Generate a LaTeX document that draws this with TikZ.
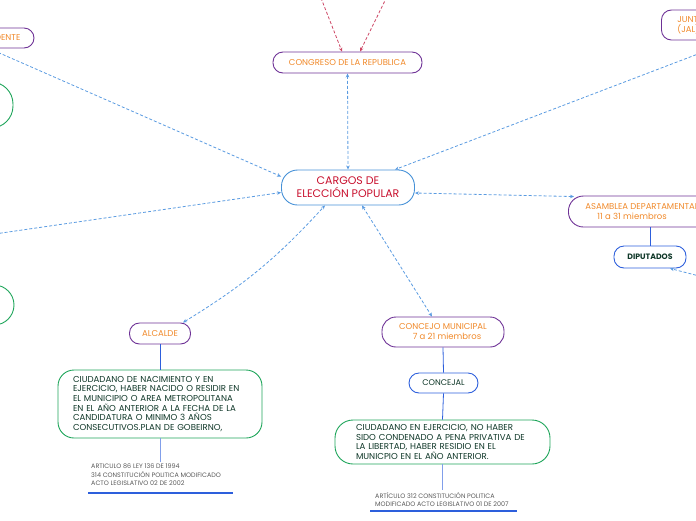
\documentclass[tikz,border=0pt]{standalone}
\usepackage{fontspec}
\setmainfont{Poppins}
\usetikzlibrary{arrows.meta,positioning}
\definecolor{mypurple}{RGB}{110,50,150}
\definecolor{myorange}{RGB}{240,137,42}
\definecolor{myred}{RGB}{200,16,46}
\definecolor{myblue}{RGB}{70,145,215}
\definecolor{roleblue}{RGB}{45,95,220}
\definecolor{mygreen}{RGB}{30,165,90}
\definecolor{darkgreen}{RGB}{15,55,40}
\definecolor{linkblue}{RGB}{90,155,225}
\definecolor{linkred}{RGB}{205,70,100}
\definecolor{mygray}{RGB}{90,90,90}
\tikzset{
  cargo/.style={
    rectangle, draw=mypurple, line width=0.9pt, rounded corners=10pt,
    text=myorange, align=center, inner sep=0pt,
    font=\fontsize{8.5}{10}\selectfont
  },
  titlebox/.style={
    rectangle, draw=myblue, line width=0.9pt, rounded corners=16pt,
    text=myred, align=center, inner sep=0pt,
    font=\fontsize{11}{13}\selectfont
  },
  rolebox/.style={
    rectangle, draw=roleblue, line width=0.9pt, rounded corners=10pt,
    text=darkgreen, align=center, inner sep=0pt,
    font=\fontsize{8.2}{9}\selectfont
  },
  reqbox/.style={
    rectangle, draw=mygreen, line width=0.9pt, rounded corners=16pt,
    text=darkgreen, align=left, inner sep=0pt,
    font=\fontsize{8.6}{9.7}\selectfont
  },
  note/.style={
    text=mygray, align=left, inner sep=0pt,
    font=\fontsize{6.4}{8.4}\selectfont
  },
  link/.style={-{Stealth[length=4pt,width=3.5pt]}, linkblue, line width=0.8pt,
    dash pattern=on 3pt off 2pt},
  bilink/.style={link, {Stealth[length=4pt,width=3.5pt]}-{Stealth[length=4pt,width=3.5pt]}},
  redlink/.style={link, linkred},
  stem/.style={draw=roleblue, line width=0.8pt},
  underline/.style={draw=roleblue, line width=1.6pt},
}

\begin{document}
\begin{tikzpicture}[x=1pt, y=-1pt]

  \useasboundingbox (0,0) rectangle (696,520);
  \clip (0,0) rectangle (696,520);

  %% Center
  \node[titlebox, minimum width=133pt, minimum height=35pt] at (348,187.5)
  (cargos) {CARGOS DE\\ELECCIÓN POPULAR};

  %% Upper nodes
  \node[cargo, minimum width=149pt, minimum height=21pt] at (347.5,62.5)
  (congreso) {CONGRESO DE LA REPUBLICA};
  \node[cargo, minimum width=74pt, minimum height=20pt] at (-3,38)
  (presidente) {PRESIDENTE};
  \node[cargo, anchor=west, align=left, inner xsep=16pt,
    minimum height=30pt] at (661,25)
  (jal) {JUNTAS ADMINISTRADORAS\\(JAL)};
  \coordinate (senado) at (310,-30);
  \coordinate (camara) at (400,-30);

  %% Left side (cut off)
  \node[reqbox, minimum width=106pt, minimum height=46pt, rounded corners=22pt]
  at (-40,105) (reqpres) {};
  \node[reqbox, minimum width=106pt, minimum height=40pt, rounded corners=20pt]
  at (-39,305) (reqgob) {};
  \coordinate (gobernador) at (-40,239);

  %% Asamblea
  \node[cargo, anchor=west, align=left, inner xsep=17pt,
    minimum height=31pt, rounded corners=15pt] at (568,211.5)
  (asamblea) {ASAMBLEA DEPARTAMENTAL\\\hspace*{12pt}11 a 31 miembros};
  \node[rolebox, minimum width=72pt, minimum height=22pt,
    font=\fontsize{7.8}{9}\selectfont\bfseries] at (650,257)
  (diputados) {DIPUTADOS};
  \coordinate (edil) at (730,284);

  %% Alcalde
  \node[cargo, minimum width=61pt, minimum height=21pt] at (160,333.5)
  (alcalde) {ALCALDE};
  \node[reqbox, minimum width=204pt, minimum height=68pt, text width=174pt]
  at (160,404) (reqalc) {CIUDADANO DE NACIMIENTO Y EN\\
    EJERCICIO, HABER NACIDO O RESIDIR EN\\
    EL MUNICIPIO O AREA METROPOLITANA\\
    EN EL AÑO ANTERIOR A LA FECHA DE LA\\
    CANDIDATURA O MINIMO 3 AÑOS\\
    CONSECUTIVOS.PLAN DE GOBEIRNO,};
  \node[note, anchor=north west] at (91,464)
  (artalc) {ARTICULO 86 LEY 136 DE 1994\\
    314 CONSTITUCIÓN POLITICA MODIFICADO\\
    ACTO LEGISLATIVO 02 DE 2002};

  %% Concejo
  \node[cargo, minimum width=122pt, minimum height=30pt, rounded corners=14pt]
  at (443,332) (concejo) {CONCEJO MUNICIPAL\\\hspace*{8pt}7 a 21 miembros};
  \node[rolebox, minimum width=69pt, minimum height=20pt] at (443.5,383)
  (concejal) {CONCEJAL};
  \node[reqbox, minimum width=215pt, minimum height=44pt, text width=173pt,
    rounded corners=18pt] at (442.5,442) (reqcon) {CIUDADANO EN EJERCICIO, NO HABER\\
    SIDO CONDENADO A PENA PRIVATIVA DE\\
    LA LIBERTAD, HABER RESIDIO EN EL\\
    MUNICPIO EN EL AÑO ANTERIOR.};
  \node[note, anchor=north west] at (375,492)
  (artcon) {ARTÍCULO 312 CONSTITUCIÓN POLITICA\\
    MODIFICADO ACTO LEGISLATIVO 01 DE 2007};

  %% Stems
  \foreach \from/\to in {alcalde/reqalc, concejo/concejal, concejal/reqcon}
  \draw[stem] (\from.south) -- (\to.north);
  \draw[stem, draw=roleblue!60] (reqalc.south) -- ++(0,24);
  \draw[stem, draw=roleblue!60] (reqcon.south) -- ++(0,26);
  \draw[stem] (diputados.north) -- (diputados.north |- asamblea.south);
  \draw[underline] (88,493) -- (233,493);
  \draw[underline] (370,511) -- (517,511);

  %% Links
  \draw[link] ([xshift=-8pt]presidente.south) -- ([yshift=11pt]cargos.west);
  \draw[link] (gobernador) -- ([yshift=-5pt]cargos.west);
  \draw[link] (jal.south) -- ([xshift=-20pt]cargos.north east);
  \draw[link] (edil) -- ([xshift=20pt]diputados.south);
  \draw[bilink] (congreso.south) -- (cargos.north);
  \draw[bilink] ([xshift=6pt,yshift=-1pt]asamblea.north west)
  -- ([yshift=-5.5pt]cargos.east);
  \draw[bilink] ([xshift=-8pt]alcalde.north east)
  to[bend right=8] ([xshift=-23pt]cargos.south);
  \draw[bilink] ([xshift=14pt]cargos.south) -- ([xshift=-11pt]concejo.north);
  \draw[redlink] (senado) -- ([xshift=-5.5pt]congreso.north);
  \draw[redlink] (camara) -- ([xshift=12.5pt]congreso.north);

\end{tikzpicture}
\end{document}
